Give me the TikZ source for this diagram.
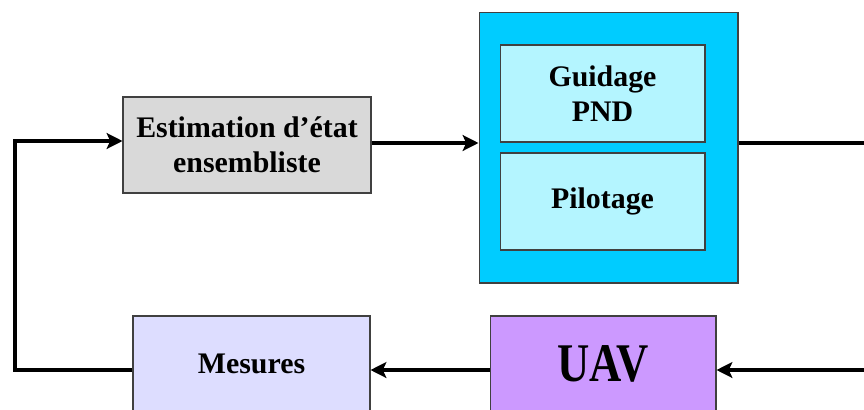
\documentclass[tikz,border=0pt]{standalone}
\usepackage{fontspec}
\usepackage{graphicx}
\setmainfont{Liberation Serif}
\usetikzlibrary{arrows.meta}
\definecolor{estgray}{HTML}{D9D9D9}
\definecolor{ctrlcyan}{HTML}{00CCFF}
\definecolor{lightcyan}{HTML}{B4F5FF}
\definecolor{mesviolet}{HTML}{DDDDFF}
\definecolor{uavviolet}{HTML}{CC99FF}
\begin{document}
\begin{tikzpicture}[x=0.02cm, y=-0.02cm,
        blockbox/.style={draw=black!75, line width=0.6pt, align=center, inner sep=0pt,
            font=\fontsize{17}{20}\selectfont\bfseries},
        fleche/.style={line width=0.095cm, -{Stealth[length=9pt, width=9pt, inset=2pt]}},
        trait/.style={line width=0.095cm}]
    \useasboundingbox (0,0) rectangle (864,409);
    \clip (0,0) rectangle (864,409);

    % blocs du haut
    \node[blockbox, fill=estgray, minimum width=4.96cm, minimum height=1.92cm] (est) at (247,145) {Estimation d'état\\ensembliste};
    \node[draw=black!75, line width=0.6pt, fill=ctrlcyan, minimum width=5.18cm, minimum height=5.42cm] (ctrl) at (608.5,147.5) {};
    \node[blockbox, fill=lightcyan, minimum width=4.1cm, minimum height=1.94cm] (guid) at (602.5,93.5) {Guidage\\PND};
    \node[blockbox, fill=lightcyan, minimum width=4.1cm, minimum height=1.94cm] (pilot) at (602.5,201.5) {Pilotage};

    % blocs du bas
    \node[blockbox, fill=mesviolet, minimum width=4.74cm, minimum height=1.92cm] (mes) at (251.5,364) {Mesures};
    \node[blockbox, fill=uavviolet, minimum width=4.52cm, minimum height=1.92cm,
        font=\fontsize{31}{32}\selectfont\bfseries] (uav) at (603,364) {\scalebox{0.82}[1]{UAV}};

    \coordinate (sortie) at (880,143);
    \coordinate (entree) at (880,370);
    \coordinate (retour) at (15,370);

    % liaisons
    \draw[fleche] (est.east |- 0,143) -- (ctrl.west |- 0,143);
    \draw[trait] (ctrl.east |- 0,143) -- (sortie);
    \draw[fleche] (entree) -- (uav.east |- entree);
    \draw[fleche] (uav.west |- entree) -- (mes.east |- entree);
    \draw[fleche] (mes.west |- retour) -- (retour) |- (est.west |- 0,141);
\end{tikzpicture}
\end{document}
